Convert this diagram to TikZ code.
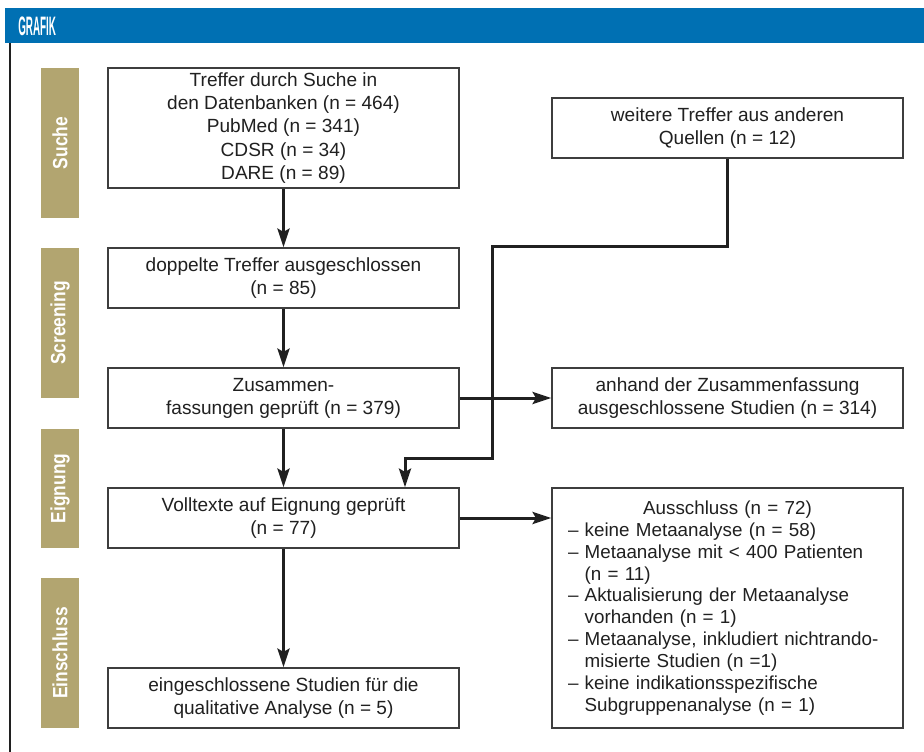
\documentclass[tikz,border=0pt]{standalone}
\usepackage{fontspec}
\setmainfont{Liberation Sans}
\newfontfamily\phasefont[FakeStretch=0.84]{Liberation Sans Bold}
\newfontfamily\titlefont[FakeStretch=0.37]{Liberation Sans Bold}
\usepackage{tikz}
\usetikzlibrary{arrows.meta}
\definecolor{grafikblue}{RGB}{0,112,179}
\definecolor{phasetan}{RGB}{178,165,112}
\definecolor{boxline}{RGB}{62,62,62}
\definecolor{ink}{RGB}{32,32,32}
\newcommand{\ind}{\hspace*{12.5pt}}

\begin{document}
\begin{tikzpicture}[x=0.75pt,y=-0.75pt,
	box/.style={draw=boxline,line width=1.1pt,fill=white,minimum width=263.25pt,minimum height=45pt,inner sep=0pt,align=center,text=ink,font=\fontsize{14.3}{17.3}\selectfont},
	phase/.style={fill=phasetan,minimum height=28.5pt,minimum width=112.5pt,inner sep=0pt,rotate=90,text=white,font=\phasefont\fontsize{15.5}{18}\selectfont},
	link/.style={draw=ink,line width=2.25pt},
	tip/.style={-{Stealth[length=14pt,width=9pt,inset=2.5pt]}}]
					\useasboundingbox (0,0) rectangle (924,752);
					\coordinate (t1) at (18,26);
					\coordinate (s1) at (60,143);
					\coordinate (s2) at (60,323);
					\coordinate (s3) at (60,488.5);
					\coordinate (s4) at (60,653);
					\coordinate (m1) at (283.5,128);
					\coordinate (m2) at (283.5,278);
					\coordinate (m3) at (283.5,398);
					\coordinate (m4) at (283.5,518);
					\coordinate (m5) at (283.5,698);
					\coordinate (r1) at (727.5,128);
					\coordinate (r3) at (727.5,398);
					\coordinate (r4) at (727.5,608);
					\coordinate (k1) at (492,247);
					\coordinate (k2) at (405,458);
					
					\fill[grafikblue] (5,8) rectangle (924,43);
					\draw[ink,line width=1.5pt] (10,43) -- (10,752);
					\node (title) at (t1) [anchor=west,inner sep=0pt,text=white,font=\titlefont\fontsize{20}{22}\selectfont] {GRAFIK};
					
					\node (suche) at (s1) [phase] {Suche};
					\node (screening) at (s2) [phase] {Screening};
					\node (eignung) at (s3) [phase,minimum width=89.25pt] {Eignung};
					\node (einschluss) at (s4) [phase] {Einschluss};
					
					\node (treffer) at (m1) [box,minimum height=90pt,font=\fontsize{14.3}{17.5}\selectfont] {Treffer durch Suche in\\den Datenbanken (n = 464)\\PubMed (n = 341)\\CDSR (n = 34)\\DARE (n = 89)};
					\node (doppelt) at (m2) [box] {doppelte Treffer ausgeschlossen\\(n = 85)};
					\node (zusammen) at (m3) [box] {Zusammen-\\fassungen geprüft (n = 379)};
					\node (volltext) at (m4) [box] {Volltexte auf Eignung geprüft\\(n = 77)};
					\node (eingeschl) at (m5) [box] {eingeschlossene Studien für die\\qualitative Analyse (n = 5)};
					
					\node (weitere) at (r1) [box] {weitere Treffer aus anderen\\Quellen (n = 12)};
					\node (anhand) at (r3) [box] {anhand der Zusammenfassung\\ausgeschlossene Studien (n = 314)};
					\node (aus) at (r4) [box,minimum height=180pt,inner xsep=12pt,text width=239.25pt,align=left,font=\fontsize{14.1}{16.4}\selectfont] {\null\hfill Ausschluss (n = 72)\hfill\null\\
						– keine Metaanalyse (n = 58)\\
						– Metaanalyse mit < 400 Patienten\\
						\ind(n = 11)\\
						– Aktualisierung der Metaanalyse\\
						\ind vorhanden (n = 1)\\
						– Metaanalyse, inkludiert nichtrando-\\
						\ind misierte Studien (n =1)\\
						– keine indikationsspezifische\\
						\ind Subgruppenanalyse (n = 1)};
					
					\draw[link,tip] (treffer) to[] (doppelt);
					\draw[link,tip] (doppelt) to[] (zusammen);
					\draw[link,tip] (zusammen) to[] (volltext);
					\draw[link,tip] (volltext) to[] (eingeschl);
					\draw[link,tip] (weitere.south) |- (k1) |- (k2) -- (k2 |- volltext.north);
					\draw[link,tip] (zusammen.east) to[] (anhand.west);
					\draw[link,tip] (volltext.east) to[] (volltext.east -| aus.west);
					
				\end{tikzpicture}
\end{document}
